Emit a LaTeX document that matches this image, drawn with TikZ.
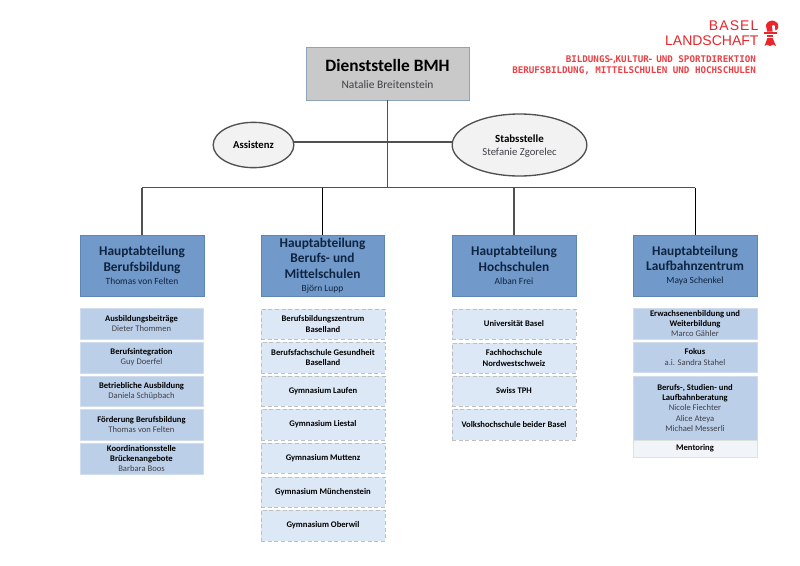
\documentclass[tikz,border=0pt]{standalone}
\usepackage{fontspec}
\setmainfont{Carlito}
\newfontfamily\logomono{DejaVu Sans Mono}
\newfontfamily\logosans{Liberation Sans}
\newfontfamily\logosanswide[LetterSpace=8]{Liberation Sans}
\usetikzlibrary{shapes.geometric}
\definecolor{hbfill}{HTML}{7199C9}
\definecolor{hbline}{HTML}{5D86B4}
\definecolor{subfill}{HTML}{BCCFE8}
\definecolor{extfill}{HTML}{DCE8F5}
\definecolor{mentfill}{HTML}{F1F5FA}
\definecolor{bosfill}{HTML}{C9C9C9}
\definecolor{bosline}{HTML}{8CA3B8}
\definecolor{conn}{HTML}{505050}
\definecolor{blred}{HTML}{E8262C}
\definecolor{nametxt}{HTML}{404048}
\definecolor{hbtxt}{HTML}{0F2440}
\tikzset{
  boss/.style={fill=bosfill,draw=bosline,line width=0.7pt,align=center,text=black,font=\fontsize{8.6pt}{12.8pt}\selectfont},
  hb/.style={fill=hbfill,draw=hbline,line width=0.6pt,align=center,text=hbtxt,font=\fontsize{10pt}{11.8pt}\selectfont},
  sub/.style={fill=subfill,draw=subfill!70!white,line width=0.4pt,align=center,text=black,font=\fontsize{6.45pt}{7.7pt}\selectfont},
  ext/.style={fill=extfill,draw=black!25,densely dashed,line width=0.4pt,align=center,text=black,font=\fontsize{6.45pt}{7.7pt}\selectfont},
  ment/.style={fill=mentfill,draw=black!12,line width=0.4pt,align=center,text=black,font=\fontsize{6.45pt}{7.7pt}\selectfont},
  oval/.style={ellipse,fill=black!5,draw=conn,line width=1pt,align=center,text=black,inner sep=0pt,outer sep=0pt,font=\fontsize{8pt}{9.8pt}\selectfont},
  conline/.style={draw=conn,line width=1.1pt},
  thinline/.style={draw=black,line width=0.7pt},
  logotxt/.style={text=blred,inner sep=0pt,outer sep=0pt,anchor=east},
  logosmall/.style={text=blred!88!white,inner sep=0pt,outer sep=0pt,anchor=east,font=\logomono\bfseries\fontsize{6.9pt}{8pt}\selectfont},
}
\newcommand{\bt}[1]{{\bfseries #1}}
\newcommand{\nm}[1]{{\color{nametxt} #1}}
\newcommand{\hbt}[1]{{\bfseries #1}}
\newcommand{\hbn}[1]{{\fontsize{7.1pt}{9pt}\selectfont #1}}
\newcommand{\bx}[7]{%
  \pgfmathsetmacro{\bw}{(#4-#2)*0.75}\pgfmathsetmacro{\bh}{(#5-#3)*0.75}%
  \pgfmathsetmacro{\bcx}{(#2+#4)/2}\pgfmathsetmacro{\bcy}{(#3+#5)/2}%
  \node[#6,minimum width=\bw pt,minimum height=\bh pt,inner sep=0pt,outer sep=0pt] (#1) at (\bcx,\bcy) {#7};}
\begin{document}
\begin{tikzpicture}[x=0.75pt,y=-0.75pt]
\useasboundingbox (0,0) rectangle (800,565);
\fill[white] (0,0) rectangle (800,565);
% top
\bx{dienst}{306}{47}{469}{100}{boss}{{\fontsize{13pt}{16pt}\selectfont\bfseries Dienststelle BMH}\\{\color{nametxt} Natalie Breitenstein}}
\node[oval,minimum width=60.5pt,minimum height=34pt] (assist) at (253.5,145) {\bfseries Assistenz};
\node[oval,minimum width=101pt,minimum height=46.5pt] (stabs) at (519.5,145) {\rule{0pt}{7.5pt}{\fontsize{8.2pt}{10pt}\selectfont\bfseries Stabsstelle}\\{\color{nametxt} Stefanie Zgorelec}};
% heads
\bx{hbA}{80}{235}{204}{296}{hb}{\hbt{Hauptabteilung}\\\hbt{Berufsbildung}\\[-2pt]\hbn{Thomas von Felten}}
\bx{hbB}{261}{235}{384}{296}{hb}{\hbt{Hauptabteilung}\\\hbt{Berufs- und}\\\hbt{Mittelschulen}\\[-2pt]\hbn{Björn Lupp}}
\bx{hbC}{452}{235}{576}{296}{hb}{\hbt{Hauptabteilung}\\\hbt{Hochschulen}\\[-2pt]\hbn{Alban Frei}}
\bx{hbD}{633}{235}{757}{296}{hb}{\hbt{Hauptabteilung}\\\hbt{Laufbahnzentrum}\\[-2pt]\hbn{Maya Schenkel}}
% connectors
\coordinate (busA) at (hbA.north |- 0,187.5);
\coordinate (busD) at (hbD.north |- 0,187.5);
\coordinate (busB) at (hbB.north |- 0,187.5);
\coordinate (busC) at (hbC.north |- 0,187.5);
\coordinate (busM) at (dienst.south |- 0,187.5);
\draw[conline] (busA) -- (busD);
\draw[conline] (dienst.south) -- (busM);
\draw[conline] (assist.4.3) -- (assist.4.3 -| stabs.west);
\draw[conline] (busA) -- (hbA.north);
\draw[thinline] (busB) -- (hbB.north);
\draw[conline] (busC) -- (hbC.north);
\draw[thinline] (busD) -- (hbD.north);
% column A
\bx{a1}{80}{308}{203}{339}{sub}{\bt{Ausbildungsbeiträge}\\\nm{Dieter Thommen}}
\bx{a2}{80}{342}{203}{373}{sub}{\bt{Berufsintegration}\\\nm{Guy Doerfel}}
\bx{a3}{80}{376}{203}{406}{sub}{\bt{Betriebliche Ausbildung}\\\nm{Daniela Schüpbach}}
\bx{a4}{80}{409}{203}{440}{sub}{\bt{Förderung Berufsbildung}\\\nm{Thomas von Felten}}
\bx{a5}{80}{443}{203}{474}{sub}{\bt{Koordinationsstelle}\\\bt{Brückenangebote}\\\nm{Barbara Boos}}
% column B
\bx{b1}{261}{309}{385}{339}{ext}{\bt{Berufsbildungszentrum}\\\bt{Baselland}}
\bx{b2}{261}{342}{385}{373}{ext}{\bt{Berufsfachschule Gesundheit}\\\bt{Baselland}}
\bx{b3}{261}{376}{385}{406}{ext}{\bt{Gymnasium Laufen}}
\bx{b4}{261}{409}{385}{440}{ext}{\bt{Gymnasium Liestal}}
\bx{b5}{261}{443}{385}{473}{ext}{\bt{Gymnasium Muttenz}}
\bx{b6}{261}{477}{385}{507}{ext}{\bt{Gymnasium Münchenstein}}
\bx{b7}{261}{510}{385}{541}{ext}{\bt{Gymnasium Oberwil}}
% column C
\bx{c1}{452}{309}{576}{339}{ext}{\bt{Universität Basel}}
\bx{c2}{452}{343}{576}{373}{ext}{\bt{Fachhochschule}\\\bt{Nordwestschweiz}}
\bx{c3}{452}{376}{576}{406}{ext}{\bt{Swiss TPH}}
\bx{c4}{452}{409}{576}{440}{ext}{\bt{Volkshochschule beider Basel}}
% column D
\bx{d1}{633}{308}{757}{339}{sub}{\bt{Erwachsenenbildung und}\\\bt{Weiterbildung}\\\nm{Marco Gähler}}
\bx{d2}{633}{342}{757}{372}{sub}{\bt{Fokus}\\\nm{a.i. Sandra Stahel}}
\bx{d3}{633}{376}{757}{440}{sub}{\bt{Berufs-, Studien- und}\\\bt{Laufbahnberatung}\\\nm{Nicole Fiechter}\\\nm{Alice Ateya}\\\nm{Michael Messerli}}
\bx{d4}{633}{440}{757}{457}{ment}{\bt{Mentoring}}
% logo
\node[logotxt,font=\logosanswide\fontsize{10.5pt}{12pt}\selectfont] (lgA) at (758.5,26) {BASEL};
\node[logotxt,font=\logosans\fontsize{10.5pt}{12pt}\selectfont] (lgB) at (758.5,41) {LANDSCHAFT};
\node[logosmall] (lgC) at (756,59.5) {BILDUNGS\kern-0.2em-\kern-0.2em,\kern-0.2em KULTUR\kern-0.15em-\kern-0.25em\ UND SPORTDIREKTION};
\node[logosmall] (lgD) at (756,70.5) {BERUFSBILDUNG, MITTELSCHULEN UND HOCHSCHULEN};
% Baselstab
\fill[blred] (767.2,31.5) .. controls (767,28) and (765.5,27) .. (766,25) .. controls (767,21.5) and (771,20) .. (774,20.8) .. controls (777,21.5) and (779,24) .. (778.3,27) .. controls (778,29) and (777,30) .. (775.5,30.5) -- (775,28) .. controls (776,26.5) and (775,24.8) .. (773.2,24.8) .. controls (771.5,24.8) and (771.8,27) .. (772.2,28) -- (772.6,31.5) -- cycle;
\fill[blred] (764,32.2) rectangle (777,33.6);
\fill[blred] (767.4,34.6) rectangle (772.6,37);
\fill[blred] (767.4,38) -- (772.6,38) -- (776,46) -- (773,44.5) -- (770,46) -- (767,44.5) -- (764.5,46) -- cycle;
\end{tikzpicture}
\end{document}
